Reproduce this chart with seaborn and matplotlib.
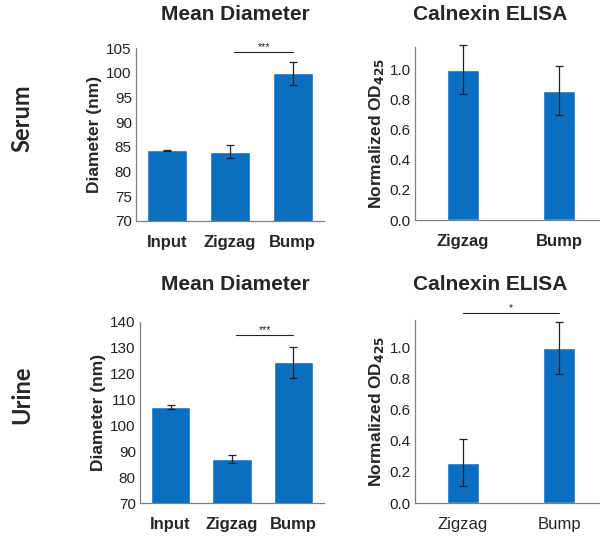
import matplotlib
matplotlib.use("Agg")
import matplotlib.pyplot as plt
import pandas as pd
import seaborn as sns

# data
diam_groups = ["Input", "Zigzag", "Bump"]
elisa_groups = ["Zigzag", "Bump"]

serum_diam = [84.3, 84.0, 99.9]
serum_diam_err = [0.1, 1.3, 2.3]
urine_diam = [107.0, 87.0, 124.5]
urine_diam_err = [0.8, 1.7, 6.0]

serum_elisa = [1.0, 0.86]
serum_elisa_err = [0.16, 0.165]
urine_elisa = [0.26, 1.0]
urine_elisa_err = [0.15, 0.17]

sns.set_style("white")
plt.rcParams["font.family"] = ["Liberation Sans", "DejaVu Sans"]

BLUE = "#0B6FC1"
fig = plt.figure(figsize=(6, 5.37), dpi=100)


def panel(rect, groups, vals, errs, ylim, yticks, ylabel, bold_x, sig=None):
    ax = fig.add_axes(rect)
    df = pd.DataFrame({"group": groups, "value": vals})
    sns.barplot(data=df, x="group", y="value", color=BLUE, width=0.64 if len(groups) == 3 else 0.34,
                saturation=1, errorbar=None, ax=ax)
    ax.errorbar(range(len(groups)), vals, yerr=errs, fmt="none", ecolor="#222222",
                elinewidth=0.9, capsize=3, capthick=0.9, clip_on=False)
    ax.set_xlim(-0.5, len(groups) - 0.5)
    ax.set_ylim(*ylim)
    ax.set_yticks(yticks)
    if ylim[1] < 2:
        ax.set_yticklabels([f"{t:.1f}" for t in yticks])
    ax.tick_params(axis="y", labelsize=11, length=0, pad=3, labelcolor="#222222")
    ax.tick_params(axis="x", labelsize=12, length=0, pad=10)
    for lab in ax.get_xticklabels():
        lab.set_fontweight("bold" if bold_x else "normal")
    ax.set_xlabel("")
    ax.set_ylabel(ylabel, fontsize=12.5, fontweight="bold", labelpad=3)
    for s in ["top", "right"]:
        ax.spines[s].set_visible(False)
    for s in ["left", "bottom"]:
        ax.spines[s].set_color("#7f7f7f")
        ax.spines[s].set_linewidth(0.9)
    if sig is not None:
        x0, x1, y, txt = sig
        ax.plot([x0, x1], [y, y], color="#222222", lw=0.8, clip_on=False)
        ax.text((x0 + x1) / 2, y, txt, ha="center", va="bottom", fontsize=7.5, clip_on=False)
    return ax


panel([0.2267, 0.5885, 0.3133, 0.3221], diam_groups, serum_diam, serum_diam_err,
      (70, 105), list(range(70, 106, 5)), "Diameter (nm)", True, sig=(1.07, 2.0, 104.2, "***"))
panel([0.6917, 0.5903, 0.32, 0.3222], elisa_groups, serum_elisa, serum_elisa_err,
      (0, 1.15), [0.0, 0.2, 0.4, 0.6, 0.8, 1.0], "Normalized OD$_{\\mathbf{425}}$", True)
panel([0.2333, 0.0633, 0.3067, 0.3371], diam_groups, urine_diam, urine_diam_err,
      (70, 140), list(range(70, 141, 10)), "Diameter (nm)", True, sig=(1.07, 2.0, 135, "***"))
panel([0.6917, 0.0633, 0.32, 0.3407], elisa_groups, urine_elisa, urine_elisa_err,
      (0, 1.18), [0.0, 0.2, 0.4, 0.6, 0.8, 1.0], "Normalized OD$_{\\mathbf{425}}$", False,
      sig=(0.0, 1.0, 1.226, "*"))

fig.text(235 / 600, 1 - 15 / 537, "Mean Diameter", ha="center", va="center", fontsize=15, fontweight="bold")
fig.text(490 / 600, 1 - 15 / 537, "Calnexin ELISA", ha="center", va="center", fontsize=15, fontweight="bold")
fig.text(235 / 600, 1 - 285 / 537, "Mean Diameter", ha="center", va="center", fontsize=15, fontweight="bold")
fig.text(490 / 600, 1 - 285 / 537, "Calnexin ELISA", ha="center", va="center", fontsize=15, fontweight="bold")

fig.text(22 / 600, 1 - 118 / 537, "Serum", rotation=90, ha="center", va="center",
         fontsize=17, fontweight="bold", family=["Lato", "DejaVu Sans"])
fig.text(22 / 600, 1 - 395 / 537, "Urine", rotation=90, ha="center", va="center",
         fontsize=17, fontweight="bold", family=["Lato", "DejaVu Sans"])

fig.savefig("out.png", dpi=100)
